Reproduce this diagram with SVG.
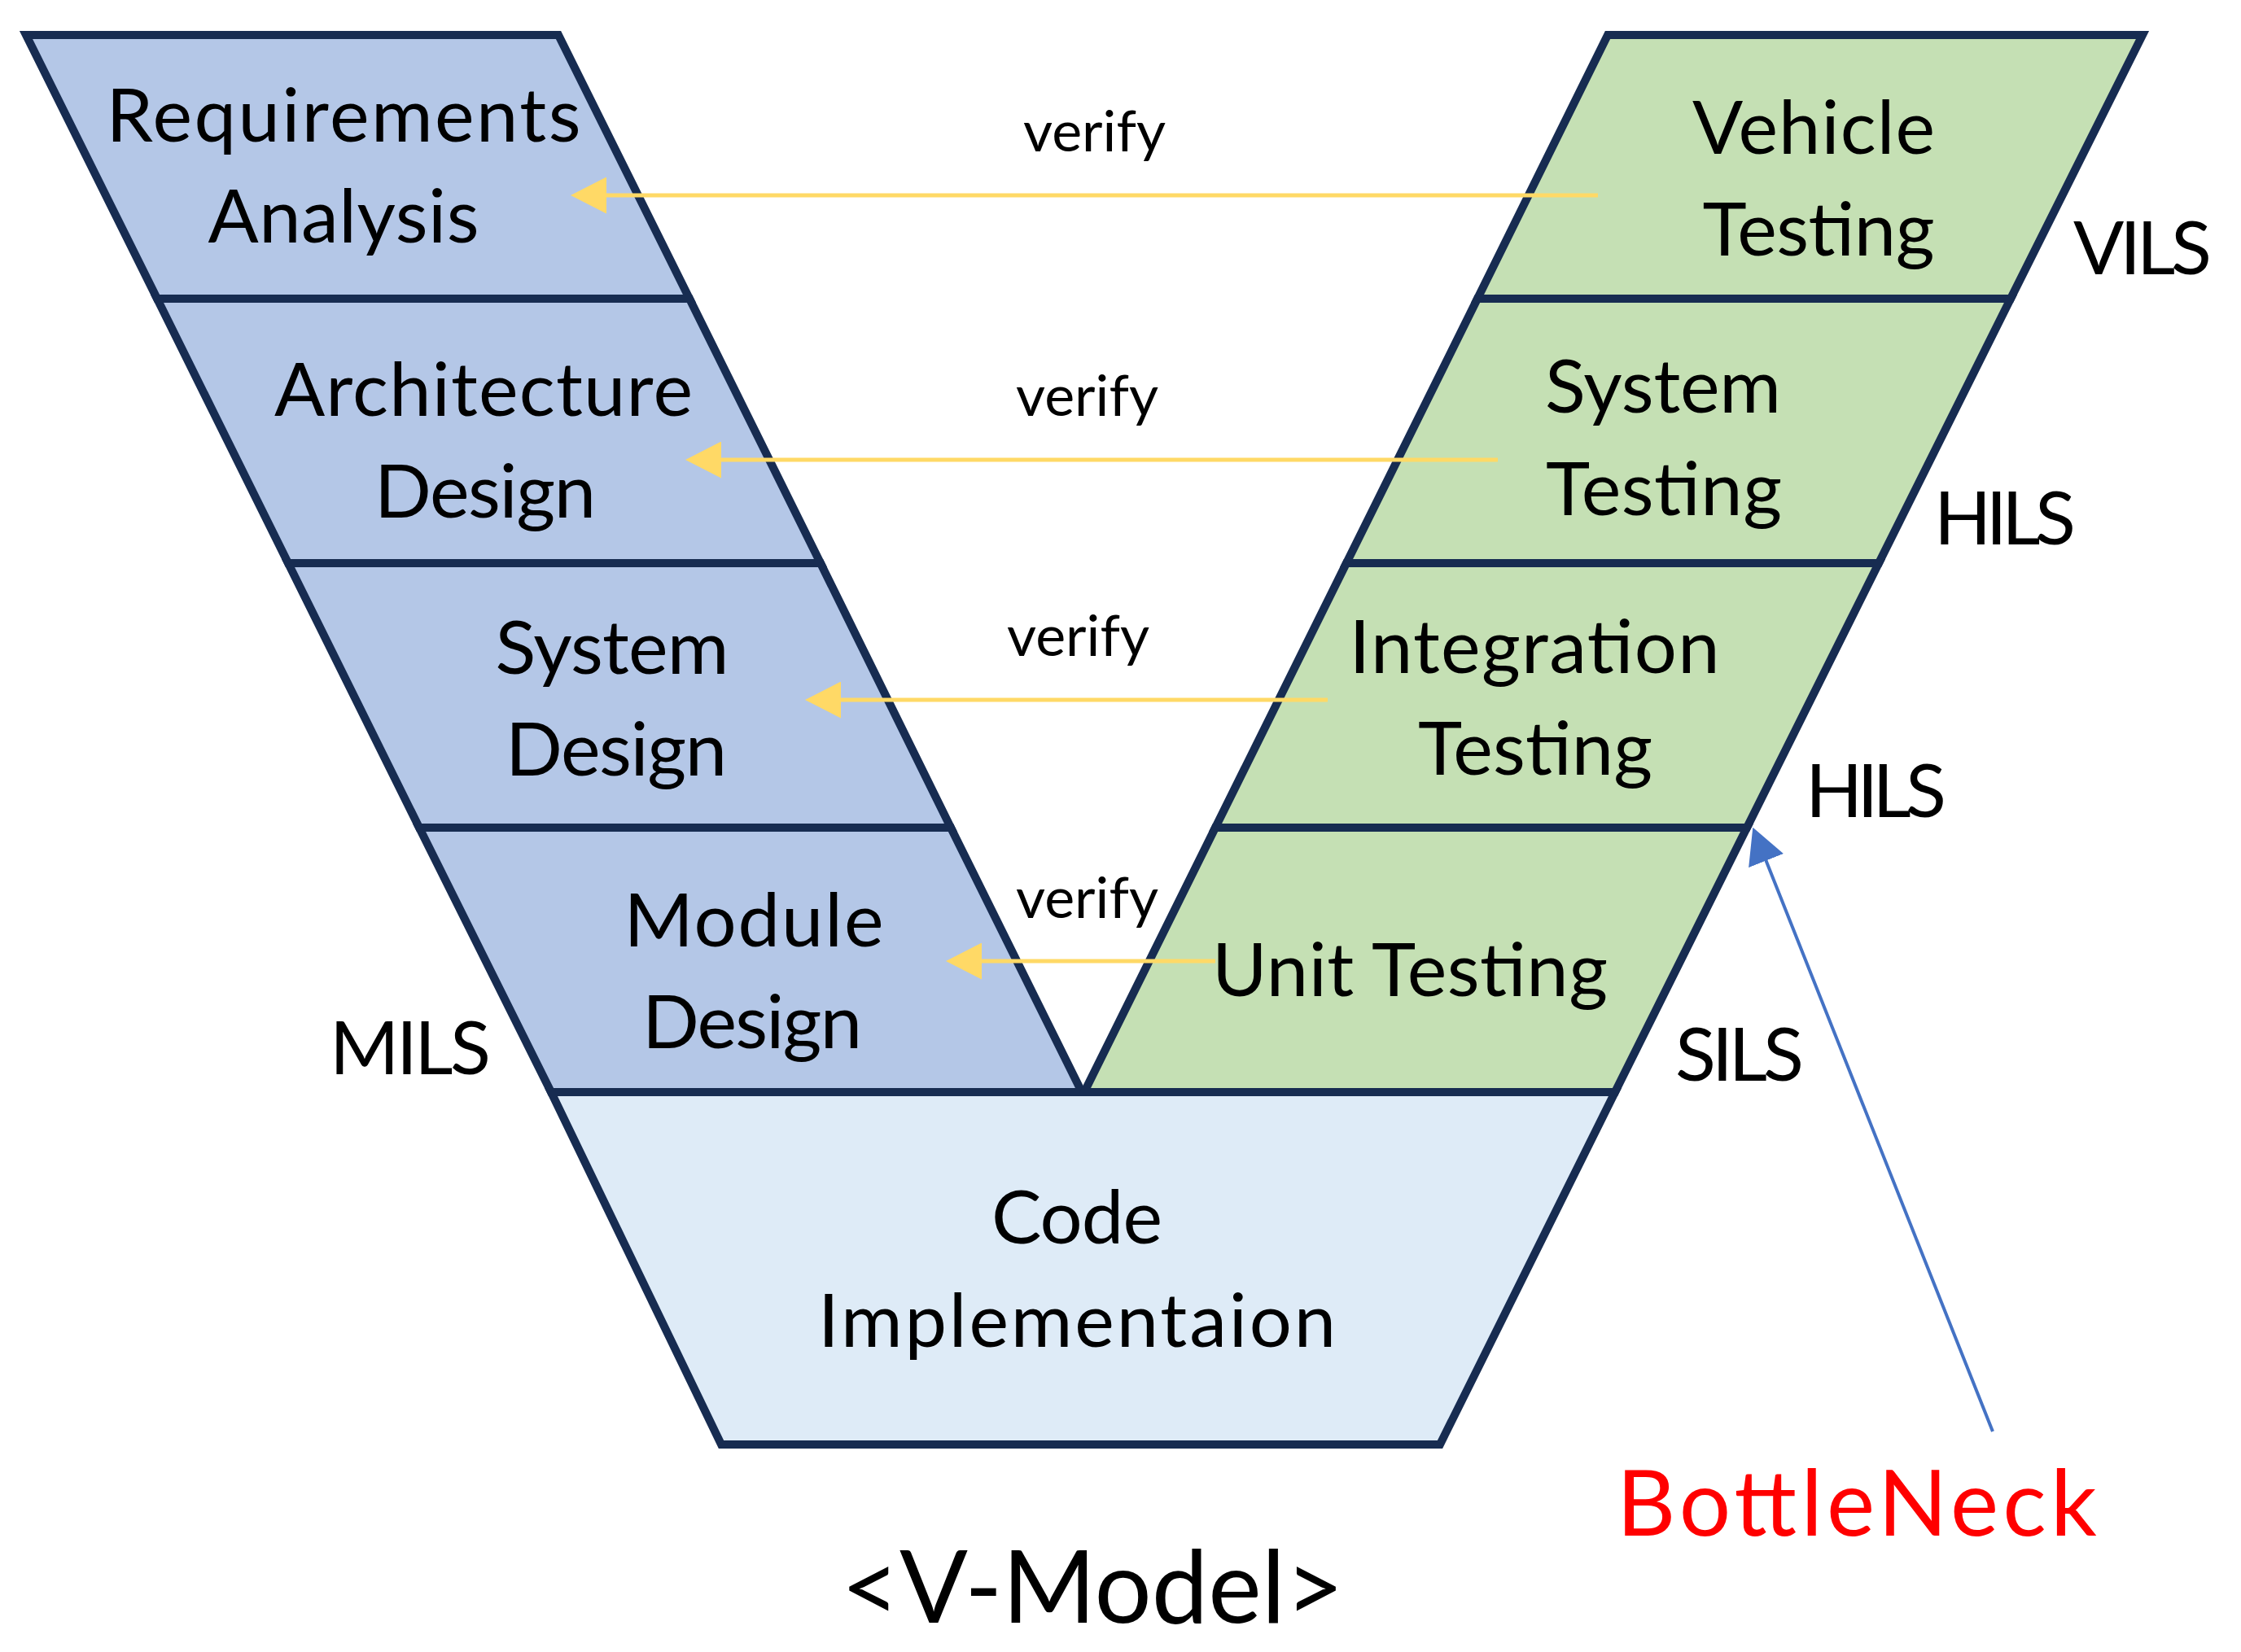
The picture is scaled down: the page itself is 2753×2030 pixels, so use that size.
<svg xmlns="http://www.w3.org/2000/svg" width="2753" height="2030" viewBox="0 0 2753 2030">
<style>
.band{stroke:#172C51;stroke-width:10;stroke-linejoin:miter}
.lb{fill:#B4C7E7}
.gb{fill:#C5E0B4}
.cb{fill:#DEEBF7}
.t{font-family:Lato,"Open Sans","Liberation Sans",sans-serif;font-size:92px;fill:#000;text-anchor:middle}
.s{font-family:Lato,"Open Sans","Liberation Sans",sans-serif;font-size:92px;fill:#000}
.v{font-family:Lato,"Open Sans","Liberation Sans",sans-serif;font-size:70px;fill:#000}
.y{stroke:#FFD966;stroke-width:5;fill:none}
</style>
<defs>
<marker id="ya" viewBox="0 0 44 45" refX="34" refY="22.5" markerWidth="44" markerHeight="45" markerUnits="userSpaceOnUse" orient="auto">
<path d="M0,0 L44,22.5 L0,45 Z" fill="#FFD966"/>
</marker>
<marker id="ba" viewBox="0 0 44 46" refX="34" refY="23" markerWidth="44" markerHeight="46" markerUnits="userSpaceOnUse" orient="auto">
<path d="M0,0 L44,23 L0,46 Z" fill="#4472C4"/>
</marker>
</defs>
<rect width="2753" height="2030" fill="#fff"/>

<g id="requirements-analysis">
<polygon class="band lb" points="32,43 686,43 847,367 193,367"/>
<text class="t" x="422" y="174" textLength="583">Requirements</text>
<text class="t" x="422" y="298" textLength="333">Analysis</text>
</g>
<g id="architecture-design">
<polygon class="band lb" points="193,367 847,367 1008,692 354,692"/>
<text class="t" x="594" y="511" textLength="514">Architecture</text>
<text class="t" x="596" y="636" textLength="272">Design</text>
</g>
<g id="system-design">
<polygon class="band lb" points="354,692 1008,692 1168,1017 515,1017"/>
<text class="t" x="752" y="828" textLength="287">System</text>
<text class="t" x="757" y="953" textLength="272">Design</text>
</g>
<g id="module-design">
<polygon class="band lb" points="515,1017 1168,1017 1329,1342 677,1342"/>
<text class="t" x="926" y="1163" textLength="319">Module</text>
<text class="t" x="924" y="1288" textLength="270">Design</text>
</g>
<g id="code-implementation">
<polygon class="band cb" points="677,1342 1984,1342 1769,1775 886,1775"/>
<text class="t" x="1323" y="1528" textLength="210">Code</text>
<text class="t" x="1323" y="1655" textLength="636">Implementaion</text>
</g>
<g id="vehicle-testing">
<polygon class="band gb" points="1975,43 2632,43 2470,367 1815,367"/>
<text class="t" x="2228" y="189" textLength="298">Vehicle</text>
<text class="t" x="2234" y="314" textLength="285">Testing</text>
</g>
<g id="system-testing">
<polygon class="band gb" points="1815,367 2470,367 2308,692 1654,692"/>
<text class="t" x="2043" y="507" textLength="290">System</text>
<text class="t" x="2044" y="633" textLength="290">Testing</text>
</g>
<g id="integration-testing">
<polygon class="band gb" points="1654,692 2308,692 2146,1017 1493,1017"/>
<text class="t" x="1885" y="827" textLength="455">Integration</text>
<text class="t" x="1886" y="952" textLength="288">Testing</text>
</g>
<g id="unit-testing">
<polygon class="band gb" points="1493,1017 2146,1017 1984,1342 1332,1342"/>
<text class="t" x="1732" y="1224" textLength="486">Unit Testing</text>
</g>

<g id="labels">
<text class="s" x="2547" y="337" textLength="170">VILS</text>
<text class="s" x="2376" y="669" textLength="174">HILS</text>
<text class="s" x="2218" y="1004" textLength="173">HILS</text>
<text class="s" x="2058" y="1328" textLength="158">SILS</text>
<text class="s" x="405" y="1320" textLength="198">MILS</text>
<text x="1986" y="1887" font-family="Lato,'Open Sans','Liberation Sans',sans-serif" font-size="112" fill="#FF0000" textLength="590">BottleNeck</text>
<text x="1342" y="1994" font-family="Lato,'Open Sans','Liberation Sans',sans-serif" font-size="124" fill="#000" text-anchor="middle">&lt;V-Model&gt;</text>
</g>

<g id="connectors">
<line class="y" x1="1963" y1="240" x2="711" y2="240" marker-end="url(#ya)"/>
<line class="y" x1="1840" y1="565" x2="852" y2="565" marker-end="url(#ya)"/>
<line class="y" x1="1631" y1="860" x2="999" y2="860" marker-end="url(#ya)"/>
<line class="y" x1="1493" y1="1181" x2="1172" y2="1181" marker-end="url(#ya)"/>
<line x1="2448" y1="1759" x2="2157" y2="1026" stroke="#4472C4" stroke-width="4" marker-end="url(#ba)"/>
<text class="v" x="1257" y="186">verify</text>
<text class="v" x="1248" y="511">verify</text>
<text class="v" x="1237" y="806">verify</text>
<text class="v" x="1248" y="1128">verify</text>
</g>
</svg>
